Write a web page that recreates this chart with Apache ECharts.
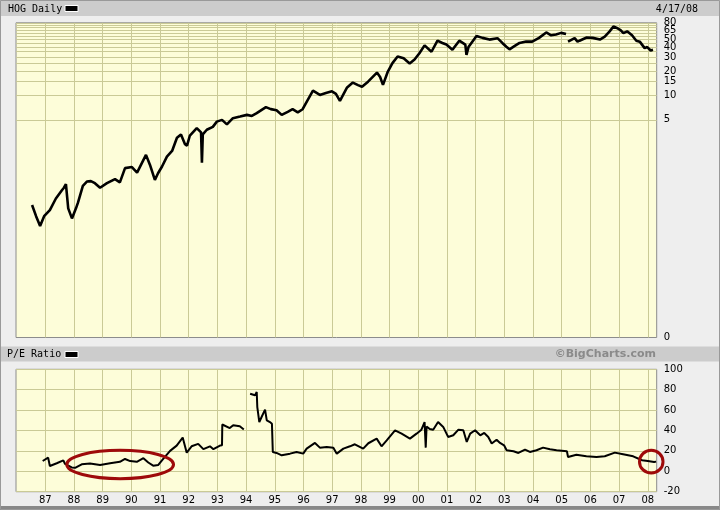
<!DOCTYPE html>
<html><head><meta charset="utf-8">
<script src="https://cdn.jsdelivr.net/npm/echarts@6/dist/echarts.min.js"></script>
<style>html,body{margin:0;padding:0;background:#EEEEEE}#c{width:720px;height:510px}</style>
</head><body><div id="c"></div><script>
// ---- data (x in decimal years) ----
const priceYears = [1986.54,1986.68,1986.82,1986.96,1987.16,1987.37,1987.58,1987.65,1987.72,1987.77,1987.8,1987.93,1988.07,1988.14,1988.31,1988.45,1988.59,1988.73,1988.91,1989.15,1989.43,1989.6,1989.78,1990.02,1990.2,1990.51,1990.65,1990.82,1990.93,1991.07,1991.24,1991.42,1991.59,1991.73,1991.87,1991.94,1992.04,1992.28,1992.43,1992.46,1992.49,1992.63,1992.84,1992.98,1993.16,1993.33,1993.54,1993.79,1994.03,1994.2,1994.37,1994.69,1994.86,1995.06,1995.24,1995.45,1995.62,1995.8,1995.97,1996.12,1996.33,1996.57,1996.78,1996.99,1997.13,1997.27,1997.51,1997.72,1997.9,1998.04,1998.25,1998.56,1998.67,1998.77,1998.94,1999.1,1999.28,1999.49,1999.7,1999.87,2000.04,2000.22,2000.28,2000.46,2000.67,2000.84,2000.98,2001.19,2001.43,2001.64,2001.68,2001.75,2002.03,2002.24,2002.48,2002.76,2002.93,2003.07,2003.18,2003.35,2003.53,2003.76,2003.97,2004.21,2004.46,2004.63,2004.8,2004.98,2005.15,2005.19,2005.22,2005.45,2005.55,2005.62,2005.87,2006.08,2006.33,2006.5,2006.67,2006.8,2006.92,2007.05,2007.15,2007.28,2007.45,2007.6,2007.72,2007.89,2007.98,2008.1,2008.18,2008.29];
const priceValues = [0.44,0.32,0.242,0.32,0.38,0.53,0.67,0.72,0.80,0.82,0.40,0.30,0.40,0.47,0.76,0.86,0.87,0.82,0.72,0.82,0.92,0.84,1.26,1.30,1.11,1.84,1.38,0.90,1.09,1.32,1.75,2.06,3.0,3.3,2.5,2.4,3.2,3.95,3.5,1.47,3.3,3.77,4.1,4.76,5.0,4.4,5.25,5.5,5.77,5.6,6.06,7.2,6.8,6.6,5.77,6.3,6.78,6.2,6.78,8.5,11.5,10.2,10.8,11.3,10.5,8.6,12.5,14.5,13.5,12.9,14.9,19.3,17.0,13.6,19.9,25.3,30.6,29,25,28,33.5,42,42.7,35,48,45,43,37,48,43,32,40,55,52,49.5,51.6,45,40.3,37.5,41,45,47,46.7,52,60.7,56,57.4,60,58,null,46.7,51.6,46.7,48,52.5,52,49.5,54,62.7,72,69,65,59.5,62.7,56,48,46.7,38.8,40,36.3,37];
const peYears = [1986.91,1987.1,1987.16,1987.4,1987.63,1987.69,1987.92,1988.04,1988.27,1988.56,1988.91,1989.26,1989.6,1989.78,1989.96,1990.19,1990.42,1990.59,1990.76,1990.94,1991.11,1991.35,1991.58,1991.79,1991.93,1992.1,1992.33,1992.51,1992.74,1992.86,1993.09,1993.16,1993.17,1993.43,1993.55,1993.78,1993.92,1994.0,1994.14,1994.31,1994.37,1994.39,1994.46,1994.54,1994.66,1994.72,1994.83,1994.9,1994.93,1995.06,1995.24,1995.53,1995.76,1995.99,1996.11,1996.4,1996.57,1996.81,1997.04,1997.16,1997.39,1997.62,1997.79,1998.08,1998.26,1998.55,1998.72,1998.9,1999.19,1999.42,1999.71,1999.94,2000.11,2000.22,2000.26,2000.29,2000.4,2000.52,2000.69,2000.87,2001.04,2001.22,2001.4,2001.57,2001.69,2001.81,2001.98,2002.16,2002.3,2002.44,2002.56,2002.73,2002.85,2002.99,2003.08,2003.32,2003.49,2003.72,2003.89,2004.12,2004.35,2004.59,2004.82,2005.18,2005.22,2005.51,2005.86,2006.21,2006.5,2006.85,2007.14,2007.49,2007.8,2008.0,2008.22,2008.29];
const peValues = [10.1,13.4,5.2,7.9,10.7,7.2,3.8,3.4,6.9,7.6,6.2,7.9,9.3,12.1,10,9.3,12.8,8.6,5.5,6.2,12.1,20,25.2,33.1,18.3,24.5,26.9,21.7,24.5,21.7,25.2,25.5,45.9,42.4,45.2,44.1,41,null,76,74.5,77.8,63,48.3,53.2,60.5,50,48.3,46.7,19,18,15.7,17.3,19,17.3,22.2,27.8,23.2,23.9,23.2,17.3,22.2,24.5,26.5,22.2,27.5,32,24.5,30.4,40.2,36.9,32,36.9,40.8,48.3,23.2,44,41.5,40.8,48.3,43.5,33.7,35.3,40.8,40.2,28.8,36.9,40.2,35.3,37.6,33.7,27.2,31,27.8,25.5,20.6,19.6,18,21.3,19,20.6,23.2,21.6,20.6,19.6,14,16.3,14.7,14,14.7,18.3,16.7,14.7,10.8,10.1,9.1,9.5];
const yearTicks = [1987,1988,1989,1990,1991,1992,1993,1994,1995,1996,1997,1998,1999,2000,2001,2002,2003,2004,2005,2006,2007,2008];
// price tick labels split over two label sets so that crowded neighbours are all kept
const priceLabelsA = [0.0101,5,15,30,50,79.99];
const priceLabelsB = [10,20,40,65];
const priceGridValues = [5,10,15,20,25,30,35,40,45,50,55,60,65,70,75,79.99];
const peLabels = [-20,0,20,40,60,80,100];

const chart = echarts.init(document.getElementById('c'), null, {renderer:'canvas'});
const toPairs = (xs, ys) => xs.map((x,i) => [x, ys[i] == null ? '-' : ys[i]]);
const gridCol = '#CACA96';
const plotBg = '#FDFDD9';
const lblFont = {color:'#000', fontFamily:'DejaVu Sans', fontSize:10};
const priceFmt = v => v < 1 ? '0' : String(Math.round(v));

const xCommon = (gi, showLabels) => ({
  type:'value', gridIndex:gi, min:1985.98, max:2008.31,
  axisLine:{show:false}, axisTick:{show:false, customValues:yearTicks},
  splitLine:{show:true, lineStyle:{color:gridCol, width:1}},
  axisLabel: showLabels ? Object.assign({show:true, customValues:yearTicks, margin:4,
    formatter: v => String(Math.round(v) % 100).padStart(2,'0')}, lblFont) : {show:false}
});
const priceAxis = (labels, withGrid) => ({
  type:'log', gridIndex:0, position:'right', offset:0, min:0.01, max:80, logBase:10,
  axisLine:{show:false}, axisTick:{show:false, customValues:priceGridValues},
  splitLine:{show:withGrid, lineStyle:{color:gridCol, width:1}},
  axisLabel:Object.assign({customValues:labels, margin:7, hideOverlap:false,
    showMinLabel:true, showMaxLabel:true, formatter:priceFmt}, lblFont)
});

chart.setOption({
  backgroundColor:'#EEEEEE',
  animation:false,
  grid:[
    {left:16, right:63.3, top:22.8, height:314.7, show:true, backgroundColor:plotBg, borderColor:'#8c8c8c', borderWidth:1},
    {left:16, right:63.3, top:369.3, height:122.4, show:true, backgroundColor:plotBg, borderColor:'#8c8c8c', borderWidth:1}
  ],
  xAxis:[ xCommon(0,false), xCommon(1,true) ],
  yAxis:[
    priceAxis(priceLabelsA, true),
    {type:'value', gridIndex:1, position:'right', min:-20, max:100, interval:20,
     axisLine:{show:false}, axisTick:{show:false},
     splitLine:{show:true, lineStyle:{color:gridCol, width:1}},
     axisLabel:Object.assign({margin:7, hideOverlap:false}, lblFont)},
    priceAxis(priceLabelsB, false)
  ],
  series:[
    {type:'line', xAxisIndex:0, yAxisIndex:0, data:toPairs(priceYears, priceValues),
     showSymbol:false, connectNulls:false, lineStyle:{color:'#000', width:2.6}, itemStyle:{color:'#000'}},
    {type:'line', xAxisIndex:1, yAxisIndex:1, data:toPairs(peYears, peValues),
     showSymbol:false, connectNulls:false, lineStyle:{color:'#000', width:2}, itemStyle:{color:'#000'}}
  ]
});

// annotations: ellipses placed through the chart's own coordinate conversion
const ellipseSpec = [
  {x0:1987.75, x1:1991.47, y0:-7.2, y1:20.6},
  {x0:2007.71, x1:2008.53, y0:-1.7, y1:20.6}
];
const ells = ellipseSpec.map(e => {
  const p0 = chart.convertToPixel({gridIndex:1}, [e.x0, e.y0]);
  const p1 = chart.convertToPixel({gridIndex:1}, [e.x1, e.y1]);
  return {type:'ellipse', z:100, silent:true,
    shape:{cx:(p0[0]+p1[0])/2, cy:(p0[1]+p1[1])/2, rx:Math.abs(p1[0]-p0[0])/2, ry:Math.abs(p1[1]-p0[1])/2},
    style:{fill:null, stroke:'#9E0A0A', lineWidth:3}};
});

const headerFont = '10px "DejaVu Sans Mono"';
chart.setOption({graphic:[
  {type:'rect', z:-1, shape:{x:0, y:0, width:720, height:16}, style:{fill:'#CCCCCC'}},
  {type:'rect', z:-1, shape:{x:0, y:346.5, width:720, height:15}, style:{fill:'#CCCCCC'}},
  {type:'text', style:{x:8, y:9, text:'HOG Daily', font:headerFont, fill:'#000', verticalAlign:'middle'}},
  {type:'rect', shape:{x:65, y:5.5, width:13, height:6}, style:{fill:'#000', stroke:'#fff', lineWidth:1}},
  {type:'text', style:{x:698, y:9, text:'4/17/08', font:headerFont, fill:'#000', align:'right', verticalAlign:'middle'}},
  {type:'text', style:{x:7, y:354.5, text:'P/E Ratio', font:headerFont, fill:'#000', verticalAlign:'middle'}},
  {type:'rect', shape:{x:65, y:351.5, width:13, height:6}, style:{fill:'#000', stroke:'#fff', lineWidth:1}},
  {type:'text', style:{x:656, y:354.5, text:'©BigCharts.com', font:'bold 11px "DejaVu Sans"', fill:'#8A8A8A', align:'right', verticalAlign:'middle'}},
  {type:'rect', z:-1, shape:{x:0, y:506, width:720, height:4}, style:{fill:'#888'}},
  {type:'rect', z:-1, shape:{x:0.5, y:0.5, width:719, height:509}, style:{fill:null, stroke:'#999', lineWidth:1}}
].concat(ells)});
</script></body></html>
